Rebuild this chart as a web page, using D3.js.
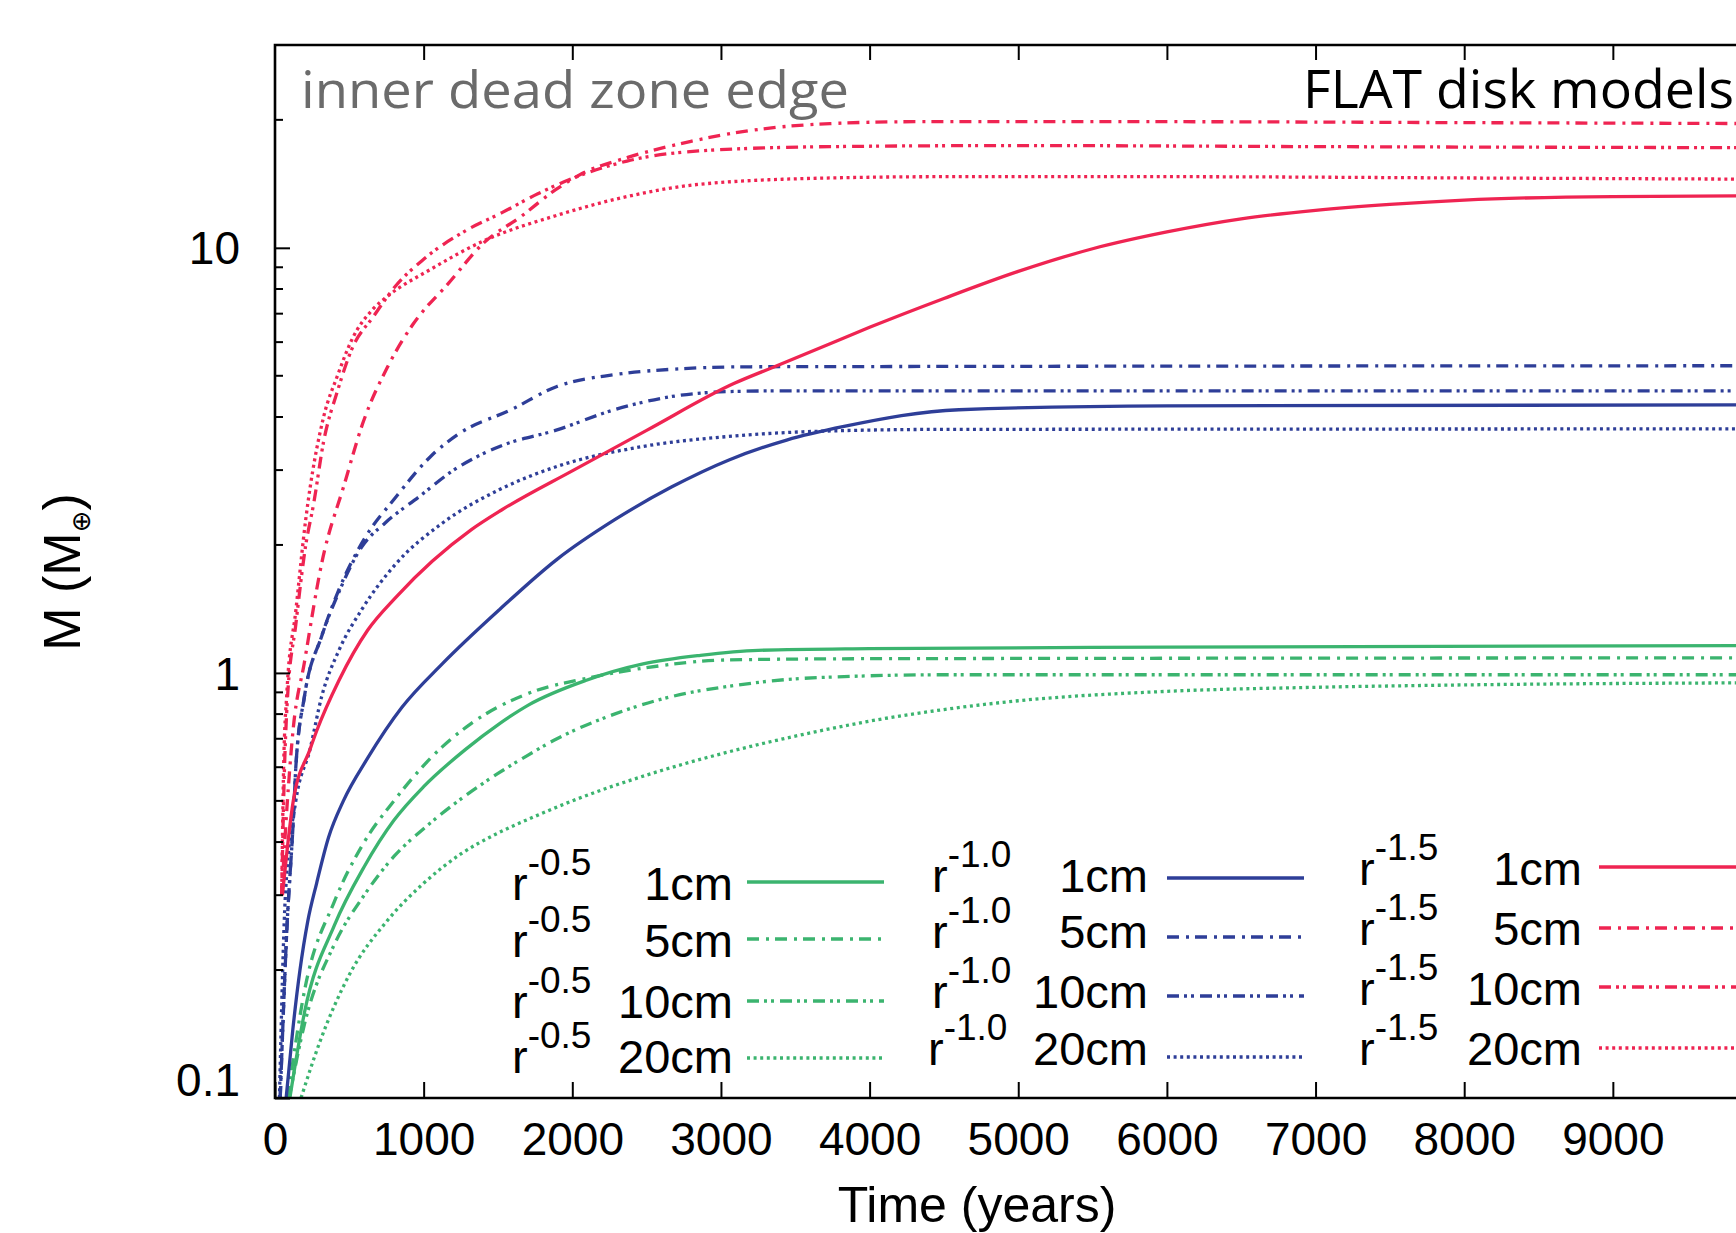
<!DOCTYPE html>
<html><head><meta charset="utf-8">
<script src="https://cdn.jsdelivr.net/npm/d3@7"></script>
<style>body{margin:0;background:#fff}svg{display:block}</style>
</head><body>
<script>
// ---------- data ----------
const xTicks = [0,1000,2000,3000,4000,5000,6000,7000,8000,9000];
const yTicks = [0.1,1,10];
const yTickLabels = ["0.1","1","10"];
const sizes = ["1cm","5cm","10cm","20cm"];
const slopes = ["-0.5","-1.0","-1.5"];

// r^-0.5 (green)
const g1  = [[100,0.1],[200,0.16],[400,0.255],[600,0.35],[800,0.45],[1000,0.54],[1280,0.66],[1511,0.76],[1704,0.84],[2090,0.96],[2476,1.05],[2862,1.10],[3250,1.13],[4000,1.14],[6000,1.15],[10000,1.16]];
const g5  = [[85,0.1],[200,0.18],[400,0.29],[600,0.40],[800,0.50],[1125,0.67],[1319,0.76],[1704,0.895],[2090,0.97],[2476,1.026],[3054,1.073],[4000,1.08],[10000,1.085]];
const g10 = [[95,0.1],[200,0.15],[400,0.23],[600,0.30],[800,0.37],[1000,0.43],[1300,0.52],[1500,0.58],[1700,0.64],[1897,0.70],[2283,0.80],[2670,0.88],[3054,0.93],[3442,0.965],[3828,0.98],[4500,0.99],[10000,0.99]];
const g20 = [[175,0.1],[300,0.135],[500,0.195],[750,0.26],[1000,0.32],[1250,0.375],[1500,0.42],[1750,0.46],[2000,0.50],[2500,0.575],[3000,0.645],[3500,0.71],[4000,0.77],[4500,0.82],[5000,0.86],[6000,0.905],[7000,0.925],[8000,0.937],[10000,0.948]];
// r^-1.0 (blue)
const b1  = [[75,0.1],[120,0.145],[168,0.2],[220,0.26],[280,0.32],[360,0.41],[460,0.50],[623,0.63],[854,0.83],[1125,1.05],[1511,1.41],[1897,1.85],[2283,2.29],[2670,2.74],[3054,3.17],[3442,3.53],[3828,3.80],[4601,4.16],[6000,4.25],[10000,4.27]];
const b5  = [[35,0.1],[80,0.25],[123,0.45],[140,0.6],[198,0.88],[314,1.22],[430,1.57],[584,2.02],[816,2.60],[1047,3.23],[1241,3.66],[1588,4.16],[1897,4.72],[2283,5.03],[2670,5.18],[3200,5.25],[10000,5.28]];
const b10 = [[35,0.1],[80,0.25],[123,0.45],[140,0.6],[198,0.88],[314,1.22],[430,1.55],[584,1.98],[739,2.25],[971,2.60],[1202,3.0],[1511,3.41],[1897,3.73],[2283,4.16],[2670,4.47],[3054,4.59],[3500,4.61],[10000,4.61]];
const b20 = [[30,0.1],[70,0.3],[140,0.5],[235,0.66],[314,0.88],[430,1.13],[584,1.41],[816,1.81],[1125,2.25],[1511,2.70],[1897,3.06],[2476,3.41],[3054,3.60],[3636,3.70],[4500,3.74],[10000,3.75]];
// r^-1.5 (red)
const r1  = [[50,0.30],[123,0.50],[235,0.66],[280,0.73],[430,0.96],[623,1.26],[816,1.51],[1319,2.17],[1527,2.42],[2009,3.0],[2500,3.72],[3090,4.8],[3364,5.26],[3734,5.95],[4000,6.5],[4500,7.6],[5000,8.8],[5500,9.95],[6000,10.9],[6500,11.7],[7000,12.25],[7500,12.65],[8000,12.95],[9000,13.2],[10000,13.25]];
const r5  = [[45,0.30],[80,0.48],[121,0.73],[198,1.06],[314,1.81],[468,2.79],[591,3.87],[759,5.26],[927,6.6],[1168,8.26],[1408,10.3],[1648,11.8],[1888,13.7],[2057,14.9],[2368,16.3],[2798,17.8],[3209,18.9],[3734,19.6],[4300,19.8],[6000,19.8],[8000,19.7],[10000,19.6]];
const r10 = [[45,0.30],[61,0.55],[82,0.85],[140,1.3],[207,2.0],[260,2.5],[327,3.5],[420,4.6],[519,5.8],[663,6.9],[807,8.1],[1000,9.4],[1288,11.0],[1527,12.1],[1768,13.4],[2009,14.6],[2368,16.0],[2850,16.9],[3734,17.3],[5000,17.4],[7000,17.3],[10000,17.2]];
const r20 = [[45,0.30],[58,0.6],[80,0.9],[140,1.4],[207,2.3],[327,4.0],[420,5.0],[519,6.1],[663,7.2],[759,7.7],[1047,8.9],[1408,10.4],[1888,11.9],[2368,13.2],[2850,14.1],[3734,14.6],[4500,14.7],[6000,14.7],[8000,14.6],[10000,14.5]];

// ---------- style ----------
const colors = ["#3bb46f","#2e3e98","#ef2452"];
const dashes = [null,"12,7,3,6","12,5,3,4,3,6","3,3.6"];
const groups = [[g1,g5,g10,g20],[b1,b5,b10,b20],[r1,r5,r10,r20]];

const W=1736,H=1233;
const L=275, R=1761.5, T=45, B=1098;
const svg = d3.select("body").append("svg").attr("width",W).attr("height",H);
const x = d3.scaleLinear().domain([0,10000]).range([L,R]);
const y = d3.scaleLog().domain([0.1,30]).range([B,T]);
const AX = '"Liberation Sans", Arial, Helvetica, sans-serif';

svg.append("clipPath").attr("id","clip").append("rect")
  .attr("x",L).attr("y",T).attr("width",R-L).attr("height",B-T);

const line = d3.line().x(d=>x(d[0])).y(d=>y(d[1])).curve(d3.curveMonotoneX);

const plot = svg.append("g").attr("clip-path","url(#clip)");
groups.forEach((grp,gi)=>{
  grp.forEach((data,si)=>{
    plot.append("path").datum(data).attr("d",line)
      .attr("fill","none").attr("stroke",colors[gi]).attr("stroke-width",3.3)
      .attr("stroke-dasharray",dashes[si]);
  });
});

// axes
const xa = svg.append("g").attr("transform",`translate(0,${B})`)
  .call(d3.axisBottom(x).tickValues(xTicks).tickFormat(d3.format("d")).tickSize(-16).tickPadding(24));
xa.select(".domain").remove();
xa.selectAll("line").attr("stroke","#000").attr("stroke-width",2);
xa.selectAll("text").attr("font-family",AX).attr("font-size",46).attr("fill","#000");

const xt = svg.append("g").attr("transform",`translate(0,${T})`)
  .call(d3.axisTop(x).tickValues(xTicks.slice(1)).tickSize(-15).tickFormat(""));
xt.select(".domain").remove();
xt.selectAll("line").attr("stroke","#000").attr("stroke-width",2);

const ya = svg.append("g").attr("transform",`translate(${L},0)`)
  .call(d3.axisLeft(y).tickValues(yTicks).tickFormat((d,i)=>yTickLabels[i]).tickSize(-15).tickPadding(35));
ya.select(".domain").remove();
ya.selectAll("line").attr("stroke","#000").attr("stroke-width",2);
ya.selectAll("text").attr("font-family",AX).attr("font-size",46).attr("fill","#000")
  .attr("dy",(d)=> d===0.1 ? "-0.05em" : "0.35em");

const minor = [];
[0.1,1,10].forEach(dec=>{for(let k=2;k<=9;k++){const v=dec*k; if(v<30) minor.push(v);}});
svg.append("g").selectAll("line").data(minor).join("line")
  .attr("x1",L).attr("x2",L+8).attr("y1",d=>y(d)).attr("y2",d=>y(d))
  .attr("stroke","#000").attr("stroke-width",2);

// frame
svg.append("path").attr("d",`M${R},${T}H${L}V${B}H${R}`)
  .attr("fill","none").attr("stroke","#000").attr("stroke-width",2.6);

// axis titles
svg.append("text").attr("x",977).attr("y",1222).attr("text-anchor","middle")
  .attr("font-family",AX).attr("font-size",50).text("Time (years)");
const yt = svg.append("text").attr("transform","translate(80,572) rotate(-90)")
  .attr("text-anchor","middle").attr("font-family",AX).attr("font-size",52);
yt.append("tspan").text("M (M");
yt.append("tspan").attr("font-family","'DejaVu Sans', sans-serif").attr("font-size",26).attr("dy",10).text("⊕");
yt.append("tspan").attr("dy",-10).text(")");

// in-plot labels
svg.append("text").attr("x",301).attr("y",108).attr("font-family","'Open Sans', sans-serif")
  .attr("font-size",52).attr("fill","#6b6b6b").attr("textLength",548).attr("lengthAdjust","spacingAndGlyphs")
  .text("inner dead zone edge");
svg.append("text").attr("x",1303).attr("y",108).attr("font-family","'Open Sans', sans-serif")
  .attr("font-size",53).attr("fill","#000").attr("textLength",431).attr("lengthAdjust","spacingAndGlyphs")
  .text("FLAT disk models");

// legend
const legendCols = [
  {rx:[512,512,512,512], lab:733, l1:747, l2:884, base:[900,957,1018,1073], ly:[882,939,1001,1058]},
  {rx:[932,932,932,928], lab:1148, l1:1167, l2:1304, base:[892,948,1008,1065], ly:[878,937,996,1057]},
  {rx:[1359,1359,1359,1359], lab:1582, l1:1599, l2:1760, base:[885,945,1005,1065], ly:[867,928,987,1048]}
];
const lg = svg.append("g");
legendCols.forEach((c,gi)=>{
  sizes.forEach((s,si)=>{
    const t = lg.append("text").attr("x",c.rx[si]).attr("y",c.base[si]).attr("font-family",AX).attr("font-size",47);
    t.append("tspan").text("r");
    t.append("tspan").attr("font-size",37).attr("dy",-25).text(slopes[gi]);
    lg.append("text").attr("x",c.lab).attr("y",c.base[si]).attr("text-anchor","end")
      .attr("font-family",AX).attr("font-size",47).text(s);
    lg.append("line").attr("x1",c.l1).attr("x2",c.l2).attr("y1",c.ly[si]).attr("y2",c.ly[si])
      .attr("stroke",colors[gi]).attr("stroke-width",3.3).attr("stroke-dasharray",dashes[si]);
  });
});
</script>
</body></html>
